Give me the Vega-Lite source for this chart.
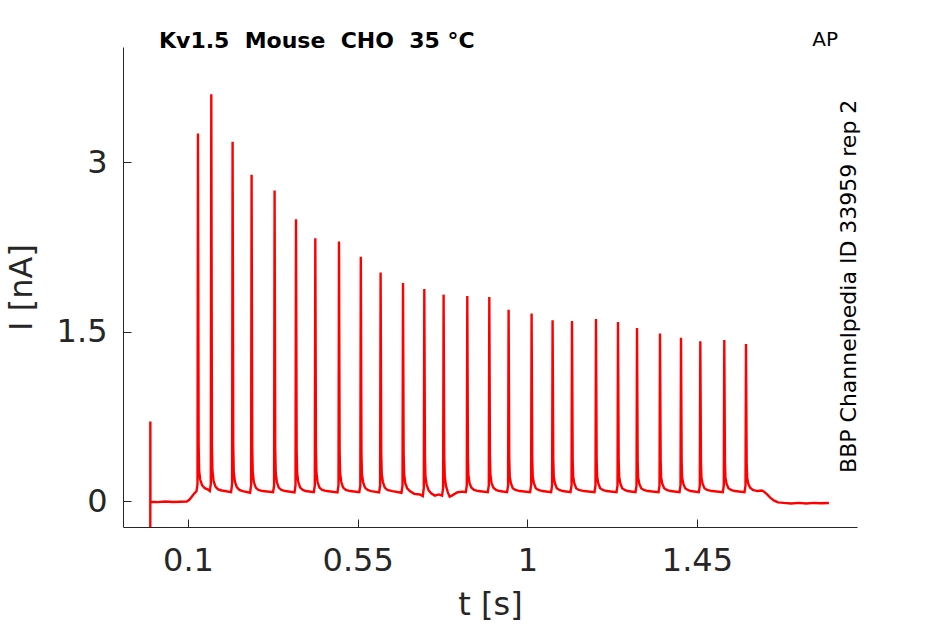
{
  "$schema": "https://vega.github.io/schema/vega-lite/v6.json",
  "autosize": {"type": "none"},
  "width": 734,
  "height": 480,
  "padding": {"left": 123, "top": 47, "right": 88, "bottom": 97},
  "background": "white",
  "config": {
    "font": "DejaVu Sans",
    "view": {"stroke": null},
    "axis": {
      "grid": false,
      "domainColor": "#262626",
      "tickColor": "#262626",
      "labelColor": "#262626",
      "titleColor": "#262626",
      "domainWidth": 1,
      "tickWidth": 1,
      "tickSize": -8,
      "labelFontSize": 32,
      "titleFontSize": 32,
      "titleFontWeight": "normal",
      "labelFont": "DejaVu Sans",
      "titleFont": "DejaVu Sans"
    }
  },
  "title": {
    "text": "Kv1.5\u00a0\u00a0Mouse\u00a0\u00a0CHO\u00a0\u00a035\u00a0°C",
    "anchor": "start",
    "frame": "group",
    "dx": 36,
    "dy": 40,
    "offset": 0,
    "baseline": "alphabetic",
    "fontSize": 22,
    "fontWeight": "bold",
    "font": "DejaVu Sans",
    "color": "#000000"
  },
  "layer": [
    {
      "data": {"values": [
        {"t": 0.0, "i": -0.4}, {"t": 0.0001, "i": 0.706}, {"t": 0.0004, "i": 0.0},
        {"t": 0.003, "i": -0.005}, {"t": 0.02, "i": -0.008}, {"t": 0.04, "i": -0.003}, {"t": 0.06, "i": -0.007}, {"t": 0.08, "i": -0.004}, {"t": 0.097, "i": -0.002},
        {"t": 0.104, "i": 0.015}, {"t": 0.111, "i": 0.045}, {"t": 0.117, "i": 0.07}, {"t": 0.1225, "i": 0.088},
        {"t": 0.1252, "i": 0.15}, {"t": 0.1265, "i": 3.254}, {"t": 0.1282, "i": 0.5}, {"t": 0.1295, "i": 0.27}, {"t": 0.1325, "i": 0.19}, {"t": 0.1375, "i": 0.14}, {"t": 0.1445, "i": 0.115}, {"t": 0.152, "i": 0.105},
        {"t": 0.1578, "i": 0.09}, {"t": 0.1605, "i": 0.15}, {"t": 0.1618, "i": 3.602}, {"t": 0.1635, "i": 0.5}, {"t": 0.1648, "i": 0.27}, {"t": 0.1678, "i": 0.18}, {"t": 0.1728, "i": 0.13}, {"t": 0.1798, "i": 0.105}, {"t": 0.19, "i": 0.095},
        {"t": 0.2143, "i": 0.08}, {"t": 0.217, "i": 0.15}, {"t": 0.2183, "i": 3.18}, {"t": 0.22, "i": 0.5}, {"t": 0.2213, "i": 0.26}, {"t": 0.2243, "i": 0.175}, {"t": 0.2293, "i": 0.125}, {"t": 0.2363, "i": 0.1}, {"t": 0.245, "i": 0.09},
        {"t": 0.2647, "i": 0.075}, {"t": 0.2674, "i": 0.14}, {"t": 0.2687, "i": 2.888}, {"t": 0.2704, "i": 0.48}, {"t": 0.2717, "i": 0.26}, {"t": 0.2747, "i": 0.17}, {"t": 0.2797, "i": 0.12}, {"t": 0.2867, "i": 0.1}, {"t": 0.298, "i": 0.09},
        {"t": 0.3257, "i": 0.08}, {"t": 0.3284, "i": 0.14}, {"t": 0.3297, "i": 2.749}, {"t": 0.3314, "i": 0.47}, {"t": 0.3327, "i": 0.25}, {"t": 0.3357, "i": 0.17}, {"t": 0.3407, "i": 0.12}, {"t": 0.3477, "i": 0.1}, {"t": 0.358, "i": 0.09},
        {"t": 0.3825, "i": 0.078}, {"t": 0.3852, "i": 0.14}, {"t": 0.3865, "i": 2.495}, {"t": 0.3882, "i": 0.45}, {"t": 0.3895, "i": 0.25}, {"t": 0.3925, "i": 0.17}, {"t": 0.3975, "i": 0.12}, {"t": 0.4045, "i": 0.1}, {"t": 0.412, "i": 0.09},
        {"t": 0.4337, "i": 0.08}, {"t": 0.4364, "i": 0.14}, {"t": 0.4377, "i": 2.327}, {"t": 0.4394, "i": 0.45}, {"t": 0.4407, "i": 0.25}, {"t": 0.4437, "i": 0.17}, {"t": 0.4487, "i": 0.12}, {"t": 0.4557, "i": 0.1}, {"t": 0.468, "i": 0.09},
        {"t": 0.4965, "i": 0.078}, {"t": 0.4992, "i": 0.14}, {"t": 0.5005, "i": 2.298}, {"t": 0.5022, "i": 0.44}, {"t": 0.5035, "i": 0.25}, {"t": 0.5065, "i": 0.17}, {"t": 0.5115, "i": 0.12}, {"t": 0.5185, "i": 0.1}, {"t": 0.53, "i": 0.09},
        {"t": 0.5544, "i": 0.08}, {"t": 0.5571, "i": 0.14}, {"t": 0.5584, "i": 2.163}, {"t": 0.5601, "i": 0.43}, {"t": 0.5614, "i": 0.24}, {"t": 0.5644, "i": 0.17}, {"t": 0.5694, "i": 0.12}, {"t": 0.5764, "i": 0.1}, {"t": 0.586, "i": 0.09},
        {"t": 0.6069, "i": 0.078}, {"t": 0.6096, "i": 0.14}, {"t": 0.6109, "i": 2.023}, {"t": 0.6126, "i": 0.42}, {"t": 0.6139, "i": 0.24}, {"t": 0.6169, "i": 0.17}, {"t": 0.6219, "i": 0.12}, {"t": 0.6289, "i": 0.1}, {"t": 0.642, "i": 0.09},
        {"t": 0.6663, "i": 0.075}, {"t": 0.669, "i": 0.14}, {"t": 0.6703, "i": 1.931}, {"t": 0.672, "i": 0.42}, {"t": 0.6733, "i": 0.24}, {"t": 0.6763, "i": 0.16}, {"t": 0.6813, "i": 0.115}, {"t": 0.6883, "i": 0.09}, {"t": 0.7, "i": 0.065}, {"t": 0.715, "i": 0.06},
        {"t": 0.7228, "i": 0.045}, {"t": 0.7255, "i": 0.12}, {"t": 0.7268, "i": 1.878}, {"t": 0.7285, "i": 0.4}, {"t": 0.7298, "i": 0.22}, {"t": 0.7328, "i": 0.15}, {"t": 0.7378, "i": 0.1}, {"t": 0.7448, "i": 0.07}, {"t": 0.755, "i": 0.05}, {"t": 0.765, "i": 0.06},
        {"t": 0.774, "i": 0.05}, {"t": 0.7767, "i": 0.12}, {"t": 0.778, "i": 1.828}, {"t": 0.7797, "i": 0.4}, {"t": 0.781, "i": 0.22}, {"t": 0.784, "i": 0.14}, {"t": 0.789, "i": 0.08}, {"t": 0.794, "i": 0.04}, {"t": 0.8, "i": 0.05}, {"t": 0.815, "i": 0.08}, {"t": 0.828, "i": 0.085},
        {"t": 0.8368, "i": 0.08}, {"t": 0.8395, "i": 0.14}, {"t": 0.8408, "i": 1.816}, {"t": 0.8425, "i": 0.4}, {"t": 0.8438, "i": 0.23}, {"t": 0.8468, "i": 0.16}, {"t": 0.8518, "i": 0.12}, {"t": 0.8588, "i": 0.1}, {"t": 0.87, "i": 0.09},
        {"t": 0.8952, "i": 0.08}, {"t": 0.8979, "i": 0.14}, {"t": 0.8992, "i": 1.807}, {"t": 0.9009, "i": 0.4}, {"t": 0.9022, "i": 0.23}, {"t": 0.9052, "i": 0.16}, {"t": 0.9102, "i": 0.12}, {"t": 0.9172, "i": 0.1}, {"t": 0.926, "i": 0.09},
        {"t": 0.9464, "i": 0.08}, {"t": 0.9491, "i": 0.14}, {"t": 0.9504, "i": 1.695}, {"t": 0.9521, "i": 0.39}, {"t": 0.9534, "i": 0.22}, {"t": 0.9564, "i": 0.16}, {"t": 0.9614, "i": 0.115}, {"t": 0.9684, "i": 0.1}, {"t": 0.98, "i": 0.09},
        {"t": 1.0074, "i": 0.08}, {"t": 1.0101, "i": 0.14}, {"t": 1.0114, "i": 1.66}, {"t": 1.0131, "i": 0.38}, {"t": 1.0144, "i": 0.22}, {"t": 1.0174, "i": 0.16}, {"t": 1.0224, "i": 0.115}, {"t": 1.0294, "i": 0.1}, {"t": 1.04, "i": 0.09},
        {"t": 1.0631, "i": 0.08}, {"t": 1.0658, "i": 0.14}, {"t": 1.0671, "i": 1.601}, {"t": 1.0688, "i": 0.38}, {"t": 1.0701, "i": 0.22}, {"t": 1.0731, "i": 0.16}, {"t": 1.0781, "i": 0.115}, {"t": 1.0851, "i": 0.1}, {"t": 1.094, "i": 0.09},
        {"t": 1.1146, "i": 0.08}, {"t": 1.1173, "i": 0.14}, {"t": 1.1186, "i": 1.594}, {"t": 1.1203, "i": 0.37}, {"t": 1.1216, "i": 0.22}, {"t": 1.1246, "i": 0.16}, {"t": 1.1296, "i": 0.115}, {"t": 1.1366, "i": 0.1}, {"t": 1.15, "i": 0.09},
        {"t": 1.1782, "i": 0.08}, {"t": 1.1809, "i": 0.14}, {"t": 1.1822, "i": 1.612}, {"t": 1.1839, "i": 0.37}, {"t": 1.1852, "i": 0.22}, {"t": 1.1882, "i": 0.16}, {"t": 1.1932, "i": 0.115}, {"t": 1.2002, "i": 0.1}, {"t": 1.21, "i": 0.09},
        {"t": 1.2366, "i": 0.08}, {"t": 1.2393, "i": 0.14}, {"t": 1.2406, "i": 1.585}, {"t": 1.2423, "i": 0.37}, {"t": 1.2436, "i": 0.22}, {"t": 1.2466, "i": 0.16}, {"t": 1.2516, "i": 0.115}, {"t": 1.2586, "i": 0.1}, {"t": 1.266, "i": 0.09},
        {"t": 1.287, "i": 0.08}, {"t": 1.2897, "i": 0.14}, {"t": 1.291, "i": 1.532}, {"t": 1.2927, "i": 0.36}, {"t": 1.294, "i": 0.21}, {"t": 1.297, "i": 0.155}, {"t": 1.302, "i": 0.115}, {"t": 1.309, "i": 0.1}, {"t": 1.32, "i": 0.09},
        {"t": 1.348, "i": 0.08}, {"t": 1.3507, "i": 0.14}, {"t": 1.352, "i": 1.483}, {"t": 1.3537, "i": 0.36}, {"t": 1.355, "i": 0.21}, {"t": 1.358, "i": 0.155}, {"t": 1.363, "i": 0.115}, {"t": 1.37, "i": 0.1}, {"t": 1.38, "i": 0.09},
        {"t": 1.4037, "i": 0.08}, {"t": 1.4064, "i": 0.14}, {"t": 1.4077, "i": 1.447}, {"t": 1.4094, "i": 0.35}, {"t": 1.4107, "i": 0.21}, {"t": 1.4137, "i": 0.155}, {"t": 1.4187, "i": 0.115}, {"t": 1.4257, "i": 0.1}, {"t": 1.433, "i": 0.09},
        {"t": 1.4549, "i": 0.08}, {"t": 1.4576, "i": 0.14}, {"t": 1.4589, "i": 1.415}, {"t": 1.4606, "i": 0.35}, {"t": 1.4619, "i": 0.21}, {"t": 1.4649, "i": 0.155}, {"t": 1.4699, "i": 0.115}, {"t": 1.4769, "i": 0.1}, {"t": 1.49, "i": 0.09},
        {"t": 1.5185, "i": 0.08}, {"t": 1.5212, "i": 0.14}, {"t": 1.5225, "i": 1.426}, {"t": 1.5242, "i": 0.35}, {"t": 1.5255, "i": 0.21}, {"t": 1.5285, "i": 0.155}, {"t": 1.5335, "i": 0.115}, {"t": 1.5405, "i": 0.1}, {"t": 1.55, "i": 0.09},
        {"t": 1.5761, "i": 0.08}, {"t": 1.5788, "i": 0.14}, {"t": 1.5801, "i": 1.391}, {"t": 1.5818, "i": 0.34}, {"t": 1.5831, "i": 0.21}, {"t": 1.5861, "i": 0.155}, {"t": 1.5911, "i": 0.12}, {"t": 1.5981, "i": 0.1}, {"t": 1.61, "i": 0.09},
        {"t": 1.622, "i": 0.095}, {"t": 1.628, "i": 0.085}, {"t": 1.636, "i": 0.06}, {"t": 1.645, "i": 0.03}, {"t": 1.655, "i": 0.005}, {"t": 1.665, "i": -0.01}, {"t": 1.68, "i": -0.015}, {"t": 1.7, "i": -0.02}, {"t": 1.72, "i": -0.015}, {"t": 1.74, "i": -0.02}, {"t": 1.76, "i": -0.015}, {"t": 1.78, "i": -0.018}, {"t": 1.8, "i": -0.015}
      ]},
      "mark": {"type": "line", "color": "#ff0000", "strokeWidth": 2.4, "clip": true},
      "encoding": {
        "x": {
          "field": "t", "type": "quantitative",
          "scale": {"domain": [-0.0724, 1.8745], "nice": false, "zero": false},
          "axis": {"values": [0.1, 0.55, 1, 1.45], "format": ".2~f", "title": "t [s]", "labelPadding": 26, "titlePadding": 13}
        },
        "y": {
          "field": "i", "type": "quantitative",
          "scale": {"domain": [-0.228, 4.019], "nice": false, "zero": false},
          "axis": {"values": [0, 1.5, 3], "format": ".1~f", "title": "I [nA]", "labelPadding": 24, "titlePadding": 18}
        }
      }
    },
    {
      "data": {"values": [{"label": "AP", "t": 1.79, "i": 4.027}]},
      "mark": {"type": "text", "fontSize": 20, "align": "center", "baseline": "alphabetic", "color": "#000000", "font": "DejaVu Sans"},
      "encoding": {
        "text": {"field": "label"},
        "x": {"field": "t", "type": "quantitative"},
        "y": {"field": "i", "type": "quantitative"}
      }
    },
    {
      "data": {"values": [{"label": "BBP Channelpedia ID 33959 rep 2", "t": 1.8714, "i": 1.902}]},
      "mark": {"type": "text", "fontSize": 22, "angle": 270, "align": "center", "baseline": "alphabetic", "color": "#000000", "font": "DejaVu Sans"},
      "encoding": {
        "text": {"field": "label"},
        "x": {"field": "t", "type": "quantitative"},
        "y": {"field": "i", "type": "quantitative"}
      }
    }
  ]
}
